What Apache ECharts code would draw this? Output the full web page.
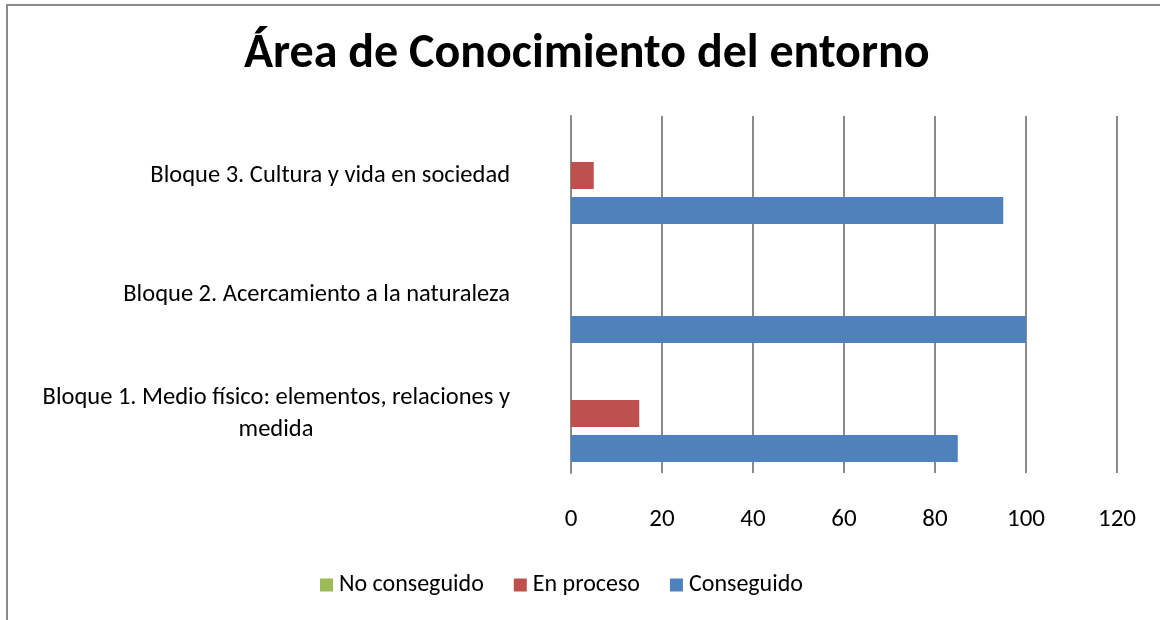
<!DOCTYPE html>
<html>
<head>
<meta charset="utf-8">
<script src="https://cdn.jsdelivr.net/npm/echarts@6/dist/echarts.min.js"></script>
<style>
html,body{margin:0;padding:0;background:#fff;}
#frame{position:absolute;left:6px;top:4px;width:1160px;height:620px;border-left:2px solid #8a8a8a;border-top:2px solid #8a8a8a;}
#chart{position:absolute;left:0;top:0;width:1160px;height:620px;}
</style>
</head>
<body>
<div id="frame"></div>
<div id="chart"></div>
<script>
const titleText = 'Área de Conocimiento del entorno';
const categories = [
  'Bloque 1. Medio físico: elementos, relaciones y medida',
  'Bloque 2. Acercamiento a la naturaleza',
  'Bloque 3. Cultura y vida en sociedad'
];
const seriesNames = ['No conseguido', 'En proceso', 'Conseguido'];
const noConseguido = [0, 0, 0];
const enProceso = [15, 0, 5];
const conseguido = [85, 100, 95];
const xTicks = [0, 20, 40, 60, 80, 100, 120];
const colors = ['#9BBB59', '#C0504D', '#4F81BD'];

const FONT = 'Carlito, Calibri, "Open Sans", sans-serif';
const LABEL_SIZE = 24.5;
const line1 = 'Bloque 1. Medio físico: elementos, relaciones y';
const ctx = document.createElement('canvas').getContext('2d');
ctx.font = LABEL_SIZE + 'px ' + FONT;
const line1W = Math.ceil(ctx.measureText(line1).width);

const chart = echarts.init(document.getElementById('chart'), null, {renderer: 'canvas'});

function catLabel(v) {
  if (v === categories[0]) {
    return '{a|' + line1 + '}\n{b|medida}';
  }
  return '{a|' + v + '}';
}

const dataSets = [noConseguido, enProceso, conseguido];
const series = seriesNames.map((n, i) => ({
  name: n,
  type: 'bar',
  data: dataSets[i],
  barWidth: 27,
  barGap: '30%',
  itemStyle: {color: colors[i]},
  emphasis: {disabled: true}
}));

chart.setOption({
  animation: false,
  backgroundColor: 'transparent',
  title: {
    text: titleText,
    left: 239,
    top: 26,
    textStyle: {fontFamily: FONT, fontSize: 48, fontWeight: 'bold', color: '#000'}
  },
  legend: {
    data: seriesNames,
    left: 315,
    top: 568,
    itemWidth: 13,
    itemHeight: 13,
    itemGap: 30,
    icon: 'rect',
    textStyle: {fontFamily: FONT, fontSize: 24, color: '#000', padding: [0, 0, 0, 1]}
  },
  grid: {left: 571, right: 43, top: 116, bottom: 147, containLabel: false},
  xAxis: {
    type: 'value',
    min: 0,
    max: 120,
    interval: 20,
    axisLine: {show: false},
    axisTick: {show: false},
    splitLine: {show: true, lineStyle: {color: '#8a8a8a', width: 2}},
    axisLabel: {
      margin: 34,
      fontFamily: FONT, fontSize: 25, color: '#000',
      formatter: v => xTicks.includes(v) ? String(v) : ''
    }
  },
  yAxis: {
    type: 'category',
    data: categories,
    axisLine: {show: true, lineStyle: {color: '#8a8a8a', width: 2}},
    axisTick: {show: false},
    splitLine: {show: false},
    axisLabel: {
      margin: 61,
      formatter: catLabel,
      fontFamily: FONT, fontSize: LABEL_SIZE, color: '#000',
      lineHeight: 32,
      rich: {
        a: {fontFamily: FONT, fontSize: LABEL_SIZE, color: '#000', lineHeight: 32},
        b: {fontFamily: FONT, fontSize: LABEL_SIZE, color: '#000', lineHeight: 32, width: line1W, align: 'center'}
      }
    }
  },
  series: series
});
</script>
</body>
</html>
